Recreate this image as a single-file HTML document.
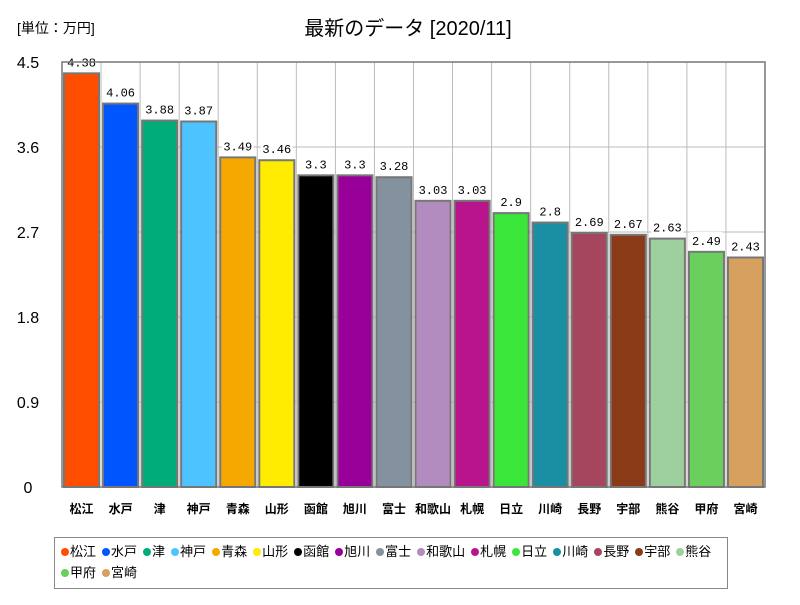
<!DOCTYPE html>
<html><head><meta charset="utf-8"><style>
body{margin:0;background:#fff;font-family:"Liberation Sans","Noto Sans CJK JP",sans-serif;}
#wrap{position:relative;width:800px;height:600px;}
#legend{position:absolute;left:54px;top:537px;width:674px;height:52px;border:1px solid #888;box-sizing:border-box;padding:3px 6px;font-size:13px;line-height:21px;}
.li{display:inline-block;margin-right:6px;white-space:nowrap;}
.dot{display:inline-block;width:8px;height:8px;border-radius:50%;margin-right:1px;}
</style></head><body>
<div id="wrap">
<svg id="svg" width="800" height="600">
<text x="17" y="33" font-size="14" font-family="Liberation Sans,Noto Sans CJK JP,sans-serif">[単位：万円]</text>
<text x="408" y="35" font-size="20" text-anchor="middle" font-family="Liberation Sans,Noto Sans CJK JP,sans-serif">最新のデータ [2020/11]</text>
<g id="plot"></g>
</svg>
<div id="legend"></div>
</div>
<script>
const categories=["松江","水戸","津","神戸","青森","山形","函館","旭川","富士","和歌山","札幌","日立","川崎","長野","宇部","熊谷","甲府","宮崎"];
const values=[4.38,4.06,3.88,3.87,3.49,3.46,3.3,3.3,3.28,3.03,3.03,2.9,2.8,2.69,2.67,2.63,2.49,2.43];
const colors=["#ff4e00","#0055ff","#00ad7a","#4dc3ff","#f5a800","#ffec00","#000000","#990099","#84919e","#b28cbf","#b8158c","#3ae63a","#1a8fa3","#a6465e","#8a3a17","#9ecf9e","#6bcf5e","#d6a05e"];
const ticks=[0,0.9,1.8,2.7,3.6,4.5];
const L=62,R=765,T=62,B=487,YMAX=4.5;
const NS="http://www.w3.org/2000/svg";
const g=document.getElementById('plot');
const y=v=>B-(v/YMAX)*(B-T);
const slot=(R-L)/categories.length;
const x=i=>L+i*slot;
function mk(t,a){const e=document.createElementNS(NS,t);for(const k in a)e.setAttribute(k,a[k]);g.appendChild(e);return e;}
ticks.forEach(t=>{
 const ln=mk('line',{x1:L,x2:R,y1:y(t),y2:y(t),stroke:'#bbb','stroke-width':1});
 
 
 const tx=mk('text',{x:28,y:y(t)+6,'font-size':16,'text-anchor':'middle','font-family':'Liberation Sans,sans-serif'});
 tx.textContent=String(t);
 
 
});
for(let i=1;i<categories.length;i++){
 const ln=mk('line',{x1:x(i),x2:x(i),y1:T,y2:B,stroke:'#bbb','stroke-width':1});
 
 
}
categories.forEach((c,i)=>{
 const bx=x(i)+2,bw=slot-4,by=y(values[i]);
 const r=mk('rect',{x:bx,y:by,width:bw,height:B-by,fill:colors[i],stroke:'#777','stroke-width':2});
 
 
 const lbl=String(values[i]);
 const w=lbl.length*7+4;
 const bg=mk('rect',{x:x(i)+slot/2-w/2,y:by-20,width:w,height:16,fill:'#fff'});
 
 
 const t=mk('text',{x:x(i)+slot/2,y:by-7,'font-size':12,'text-anchor':'middle','font-family':'Liberation Mono,monospace'});
 t.textContent=lbl;
 
 
 const xl=mk('text',{x:x(i)+slot/2,y:513,'font-size':12,'font-weight':'bold','text-anchor':'middle','font-family':'Liberation Sans,Noto Sans CJK JP,sans-serif'});
 xl.textContent=c;
 
 
});
const fr=mk('rect',{x:L,y:T,width:R-L,height:B-T,fill:'none',stroke:'#777','stroke-width':1.5});


const leg=document.getElementById('legend');
categories.forEach((c,i)=>{
 const s=document.createElement('span');s.className='li';
 
 
 s.innerHTML='<span class="dot" style="background:'+colors[i]+'"></span>'+c;
 leg.appendChild(s);
});
</script>
</body></html>
